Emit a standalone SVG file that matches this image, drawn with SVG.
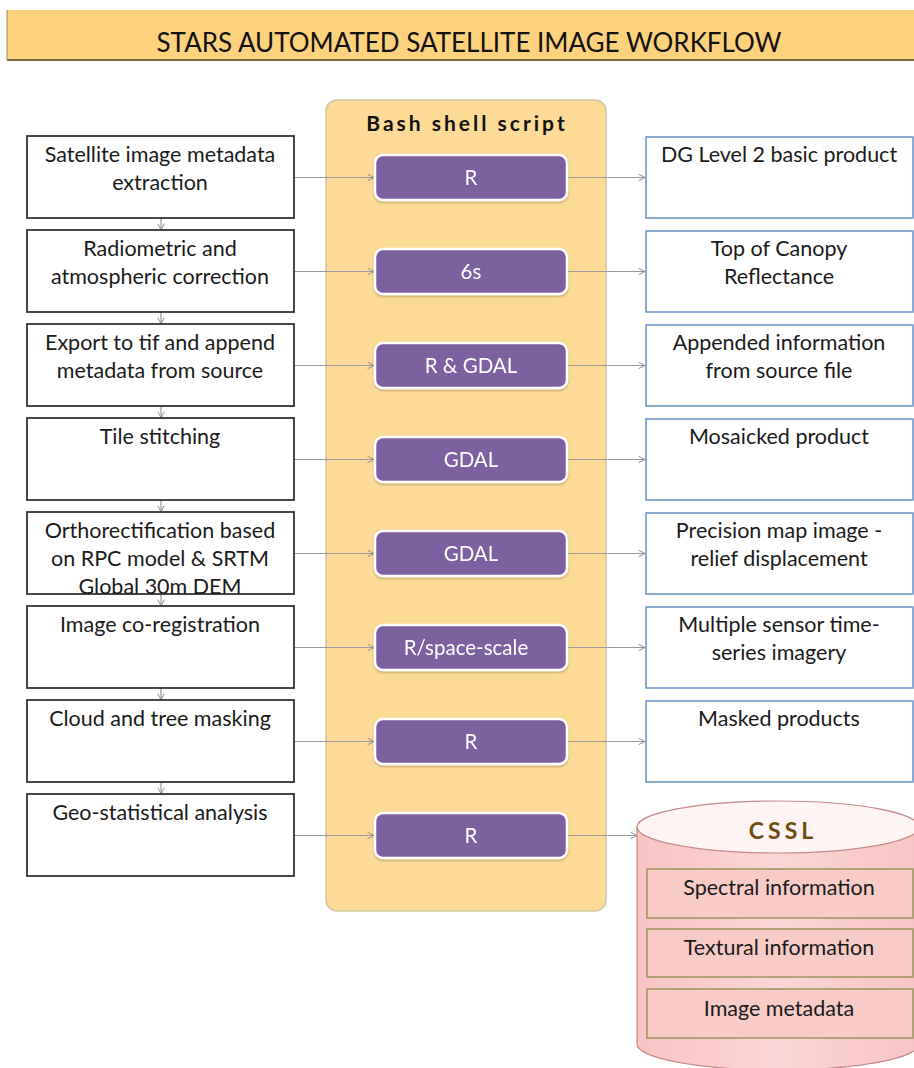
<svg xmlns="http://www.w3.org/2000/svg" width="914" height="1068" viewBox="0 0 914 1068">
<defs>
<style>
.t{font-family:Lato,"Open Sans","Liberation Sans",sans-serif;font-size:21.5px;fill:#1a1a1a;text-anchor:middle}
.lb{fill:#fff;stroke:#333;stroke-width:1.8}
.rb{fill:#fff;stroke:#7097c9;stroke-width:1.6}
.pb{fill:#7c609f;stroke:#fff;stroke-width:2.5}
.pt{font-family:Lato,"Open Sans","Liberation Sans",sans-serif;font-size:20.5px;fill:#fff;text-anchor:middle}
.c{stroke:#9a9a9a;stroke-width:1.2;fill:none;marker-end:url(#ah)}
.ir{fill:#f8cbc6;stroke:#a39663;stroke-width:1.6}
</style>
<marker id="ah" viewBox="0 0 10 10" refX="9" refY="5" markerWidth="8" markerHeight="8" markerUnits="userSpaceOnUse" orient="auto">
<path d="M1,1 L9,5 L1,9" fill="none" stroke="#8a8a8a" stroke-width="1.2"/>
</marker>
<linearGradient id="cyl" x1="0" y1="0" x2="1" y2="0">
<stop offset="0" stop-color="#f9c3c3"/>
<stop offset="0.5" stop-color="#fcd6d6"/>
<stop offset="1" stop-color="#f9c3c3"/>
</linearGradient>
<filter id="sh" x="-10%" y="-20%" width="120%" height="150%">
<feDropShadow dx="0" dy="1.5" stdDeviation="1.2" flood-color="#000" flood-opacity="0.25"/>
</filter>
</defs>

<g id="title">
<rect x="7" y="10" width="910" height="50" fill="#fed27c"/>
<line x1="7" y1="60" x2="914" y2="60" stroke="#7a6a40" stroke-width="2"/>
<line x1="7" y1="10" x2="7" y2="60" stroke="#9a8a60" stroke-width="1"/>
<text x="469" y="52" font-family="Lato,'Open Sans','Liberation Sans',sans-serif" font-size="26" fill="#111" text-anchor="middle" textLength="625" lengthAdjust="spacingAndGlyphs">STARS AUTOMATED SATELLITE IMAGE WORKFLOW</text>
</g>

<g id="bash">
<rect x="326" y="100" width="280" height="811" rx="11" fill="#fddb96" stroke="#cfc7a0" stroke-width="1.5"/>
<text x="467" y="131" font-family="Lato,'Open Sans','Liberation Sans',sans-serif" font-size="21" font-weight="bold" fill="#111" text-anchor="middle" letter-spacing="3">Bash shell script</text>
</g>

<g id="connectors">
<line class="c" x1="161" y1="218" x2="161" y2="230"/>
<line class="c" x1="161" y1="312" x2="161" y2="324"/>
<line class="c" x1="161" y1="406" x2="161" y2="418"/>
<line class="c" x1="161" y1="500" x2="161" y2="512"/>
<line class="c" x1="161" y1="594" x2="161" y2="606"/>
<line class="c" x1="161" y1="688" x2="161" y2="700"/>
<line class="c" x1="161" y1="782" x2="161" y2="794"/>

<line class="c" x1="294" y1="177.5" x2="374" y2="177.5"/>
<line class="c" x1="294" y1="271.5" x2="374" y2="271.5"/>
<line class="c" x1="294" y1="365.5" x2="374" y2="365.5"/>
<line class="c" x1="294" y1="459.5" x2="374" y2="459.5"/>
<line class="c" x1="294" y1="553.5" x2="374" y2="553.5"/>
<line class="c" x1="294" y1="647.5" x2="374" y2="647.5"/>
<line class="c" x1="294" y1="741.5" x2="374" y2="741.5"/>
<line class="c" x1="294" y1="835.5" x2="374" y2="835.5"/>

<line class="c" x1="567" y1="177.5" x2="645" y2="177.5"/>
<line class="c" x1="567" y1="271.5" x2="645" y2="271.5"/>
<line class="c" x1="567" y1="365.5" x2="645" y2="365.5"/>
<line class="c" x1="567" y1="459.5" x2="645" y2="459.5"/>
<line class="c" x1="567" y1="553.5" x2="645" y2="553.5"/>
<line class="c" x1="567" y1="647.5" x2="645" y2="647.5"/>
<line class="c" x1="567" y1="741.5" x2="645" y2="741.5"/>
<line class="c" x1="567" y1="835.5" x2="637" y2="835.5"/>
</g>

<g id="left1"><rect class="lb" x="27" y="136" width="267" height="82"/><text class="t" x="160" y="162">Satellite image metadata</text><text class="t" x="160" y="190">extraction</text></g>
<g id="left2"><rect class="lb" x="27" y="230" width="267" height="82"/><text class="t" x="160" y="256">Radiometric and</text><text class="t" x="160" y="284">atmospheric correction</text></g>
<g id="left3"><rect class="lb" x="27" y="324" width="267" height="82"/><text class="t" x="160" y="350">Export to tif and append</text><text class="t" x="160" y="378">metadata from source</text></g>
<g id="left4"><rect class="lb" x="27" y="418" width="267" height="82"/><text class="t" x="160" y="444">Tile stitching</text></g>
<g id="left5"><rect class="lb" x="27" y="512" width="267" height="82"/><text class="t" x="160" y="538">Orthorectification based</text><text class="t" x="160" y="566">on RPC model &amp; SRTM</text><text class="t" x="160" y="594">Global 30m DEM</text></g>
<g id="left6"><rect class="lb" x="27" y="606" width="267" height="82"/><text class="t" x="160" y="632">Image co-registration</text></g>
<g id="left7"><rect class="lb" x="27" y="700" width="267" height="82"/><text class="t" x="160" y="726">Cloud and tree masking</text></g>
<g id="left8"><rect class="lb" x="27" y="794" width="267" height="82"/><text class="t" x="160" y="820">Geo-statistical analysis</text></g>

<g id="tool1" filter="url(#sh)"><rect class="pb" x="375" y="155" width="192" height="45" rx="8"/><text class="pt" x="471" y="185">R</text></g>
<g id="tool2" filter="url(#sh)"><rect class="pb" x="375" y="249" width="192" height="45" rx="8"/><text class="pt" x="471" y="279">6s</text></g>
<g id="tool3" filter="url(#sh)"><rect class="pb" x="375" y="343" width="192" height="45" rx="8"/><text class="pt" x="471" y="373">R &amp; GDAL</text></g>
<g id="tool4" filter="url(#sh)"><rect class="pb" x="375" y="437" width="192" height="45" rx="8"/><text class="pt" x="471" y="467">GDAL</text></g>
<g id="tool5" filter="url(#sh)"><rect class="pb" x="375" y="531" width="192" height="45" rx="8"/><text class="pt" x="471" y="561">GDAL</text></g>
<g id="tool6" filter="url(#sh)"><rect class="pb" x="375" y="625" width="192" height="45" rx="8"/><text class="pt" x="466" y="655">R/space-scale</text></g>
<g id="tool7" filter="url(#sh)"><rect class="pb" x="375" y="719" width="192" height="45" rx="8"/><text class="pt" x="471" y="749">R</text></g>
<g id="tool8" filter="url(#sh)"><rect class="pb" x="375" y="813" width="192" height="45" rx="8"/><text class="pt" x="471" y="843">R</text></g>

<g id="right1"><rect class="rb" x="646" y="137" width="267" height="81"/><text class="t" x="779" y="162">DG Level 2 basic product</text></g>
<g id="right2"><rect class="rb" x="646" y="231" width="267" height="81"/><text class="t" x="779" y="256">Top of Canopy</text><text class="t" x="779" y="284">Reflectance</text></g>
<g id="right3"><rect class="rb" x="646" y="325" width="267" height="81"/><text class="t" x="779" y="350">Appended information</text><text class="t" x="779" y="378">from source file</text></g>
<g id="right4"><rect class="rb" x="646" y="419" width="267" height="81"/><text class="t" x="779" y="444">Mosaicked product</text></g>
<g id="right5"><rect class="rb" x="646" y="513" width="267" height="81"/><text class="t" x="779" y="538">Precision map image -</text><text class="t" x="779" y="566">relief displacement</text></g>
<g id="right6"><rect class="rb" x="646" y="607" width="267" height="81"/><text class="t" x="779" y="632">Multiple sensor time-</text><text class="t" x="779" y="660">series imagery</text></g>
<g id="right7"><rect class="rb" x="646" y="701" width="267" height="81"/><text class="t" x="779" y="726">Masked products</text></g>

<g id="cssl">
<path d="M637,827 L637,1044 A141,26 0 0 0 919,1044 L919,827 Z" fill="url(#cyl)" stroke="#c48a8a" stroke-width="1.2"/>
<ellipse cx="778" cy="827" rx="141" ry="26" fill="#fff4f4" stroke="#c48a8a" stroke-width="1.2"/>
<text x="783" y="839" font-family="Lato,'Open Sans','Liberation Sans',sans-serif" font-size="23" font-weight="bold" fill="#6e4d12" text-anchor="middle" letter-spacing="4">CSSL</text>
<rect class="ir" x="647" y="869" width="266" height="49"/>
<text class="t" x="779" y="895">Spectral information</text>
<rect class="ir" x="647" y="929" width="266" height="48"/>
<text class="t" x="779" y="955">Textural information</text>
<rect class="ir" x="647" y="989" width="266" height="49"/>
<text class="t" x="779" y="1016">Image metadata</text>
</g>
</svg>
